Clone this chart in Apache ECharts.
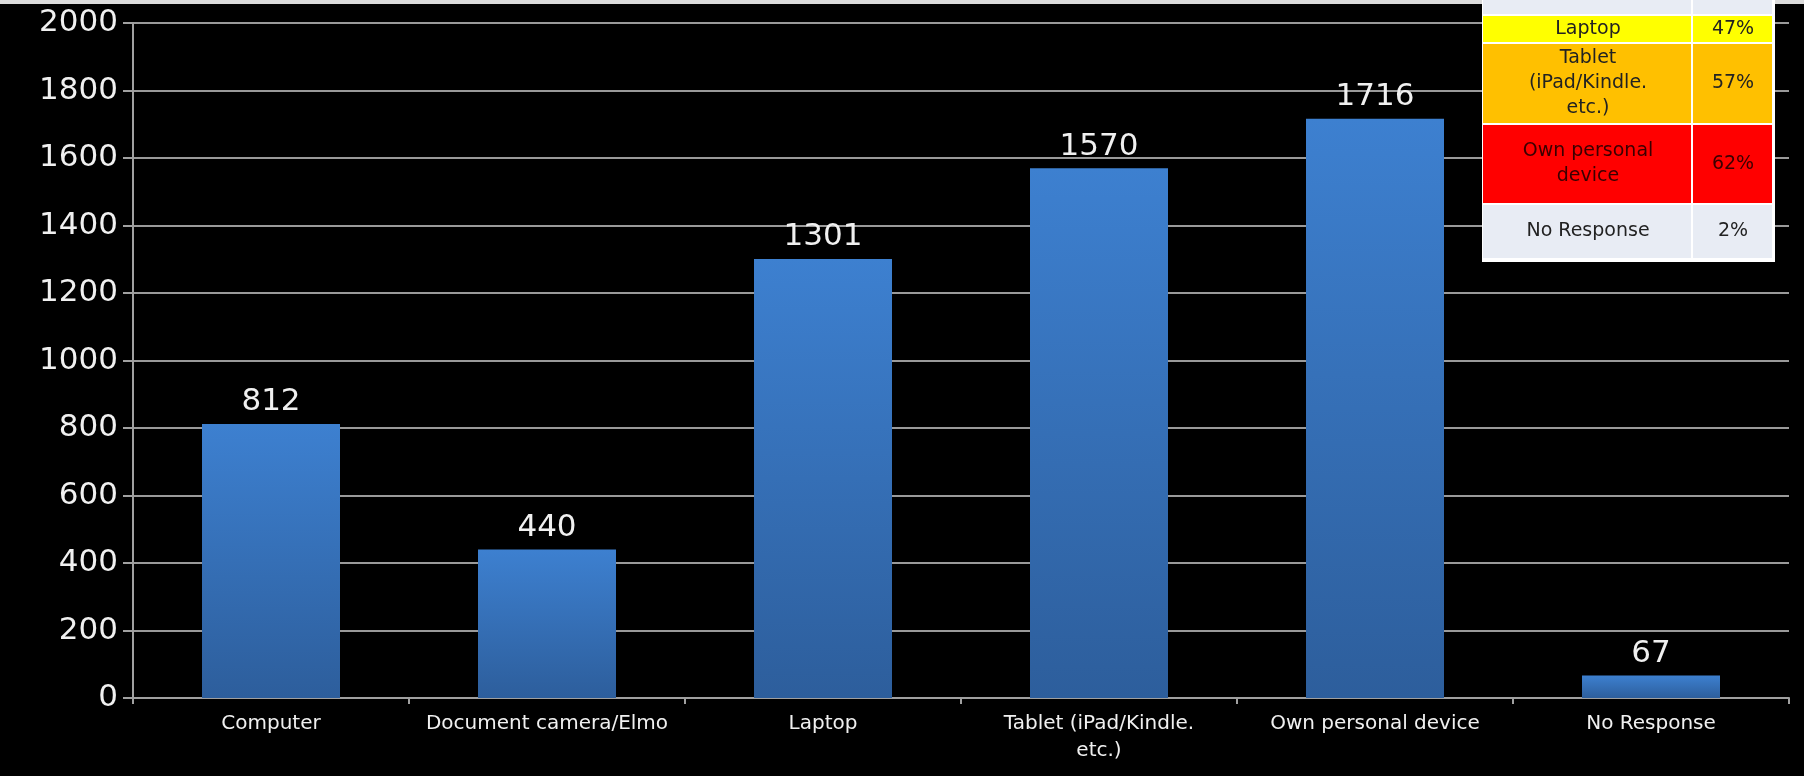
<!DOCTYPE html>
<html>
<head>
<meta charset="utf-8">
<script src="https://cdn.jsdelivr.net/npm/echarts@6/dist/echarts.min.js"></script>
<style>
html,body{margin:0;padding:0;background:#000;}
#chart{width:1804px;height:776px;}
</style>
</head>
<body>
<div id="chart"></div>
<script>
const categories = ['Computer', 'Document camera/Elmo', 'Laptop', 'Tablet (iPad/Kindle.\netc.)', 'Own personal device', 'No Response'];
const values = [812, 440, 1301, 1570, 1716, 67];
const yTicks = { min: 0, max: 2000, interval: 200 };

const tableLabels = ['', 'Laptop', 'Tablet\n(iPad/Kindle.\netc.)', 'Own personal\ndevice', 'No Response'];
const tablePercents = ['', '47%', '57%', '62%', '2%'];
const tableColors = ['#e8ecf4', '#ffff00', '#ffc000', '#ff0000', '#e8ecf4'];
const tableTextColors = ['#222', '#222', '#222', '#3a0000', '#222'];

const chart = echarts.init(document.getElementById('chart'));

// table layout
const tblX = 1483, colW1 = 210, colW2 = 80;
const rowH = [16, 28, 81, 80, 55];
const graphics = [{ type: 'rect', shape: { x: 0, y: 0, width: 1804, height: 4 }, style: { fill: '#dcdcdc' } }];
let yy = 0;
graphics.push({ type: 'rect', shape: { x: tblX - 1, y: 0, width: colW1 + colW2 + 3, height: rowH.reduce((a, b) => a + b, 0) + 2 }, style: { fill: '#ffffff' }, z: 100 });
tableLabels.forEach((lab, i) => {
  const h = rowH[i];
  graphics.push({ type: 'rect', shape: { x: tblX, y: yy, width: colW1 - 2, height: h - 2 }, style: { fill: tableColors[i] }, z: 101 });
  graphics.push({ type: 'rect', shape: { x: tblX + colW1, y: yy, width: colW2 - 1, height: h - 2 }, style: { fill: tableColors[i] }, z: 101 });
  if (lab) {
    graphics.push({ type: 'text', x: tblX + colW1 / 2, y: yy + (h - 2) / 2, style: { text: lab, fill: tableTextColors[i], font: '19px "DejaVu Sans"', align: 'center', verticalAlign: 'middle', lineHeight: 25 }, z: 102 });
    graphics.push({ type: 'text', x: tblX + colW1 + colW2 / 2, y: yy + (h - 2) / 2, style: { text: tablePercents[i], fill: tableTextColors[i], font: '19px "DejaVu Sans"', align: 'center', verticalAlign: 'middle' }, z: 102 });
  }
  yy += h;
});

chart.setOption({
  backgroundColor: '#000000',
  animation: false,
  grid: { left: 133, right: 15, top: 23, bottom: 78 },
  xAxis: {
    type: 'category',
    data: categories,
    axisLine: { lineStyle: { color: '#a0a0a0', width: 2 } },
    axisTick: { show: true, length: 6, lineStyle: { color: '#a0a0a0', width: 2 } },
    axisLabel: { color: '#f0f0f0', fontSize: 20, fontFamily: 'DejaVu Sans', margin: 12, lineHeight: 27, interval: 0 }
  },
  yAxis: {
    type: 'value',
    min: yTicks.min, max: yTicks.max, interval: yTicks.interval,
    axisLine: { show: true, lineStyle: { color: '#a0a0a0', width: 2 } },
    axisTick: { show: true, length: 10, lineStyle: { color: '#a0a0a0', width: 2 } },
    splitLine: { lineStyle: { color: '#9a9a9a', width: 2 } },
    axisLabel: { color: '#f0f0f0', fontSize: 31, fontFamily: 'DejaVu Sans', margin: 15, formatter: v => String(v) }
  },
  series: [{
    type: 'bar',
    data: values,
    barCategoryGap: '50%',
    itemStyle: {
      color: new echarts.graphic.LinearGradient(0, 0, 0, 1, [
        { offset: 0, color: '#3d80d0' },
        { offset: 1, color: '#2d5e9c' }
      ])
    },
    label: { show: true, position: 'top', color: '#f0f0f0', fontSize: 31, fontFamily: 'DejaVu Sans', distance: 6 }
  }],
  graphic: graphics
});
</script>
</body>
</html>
